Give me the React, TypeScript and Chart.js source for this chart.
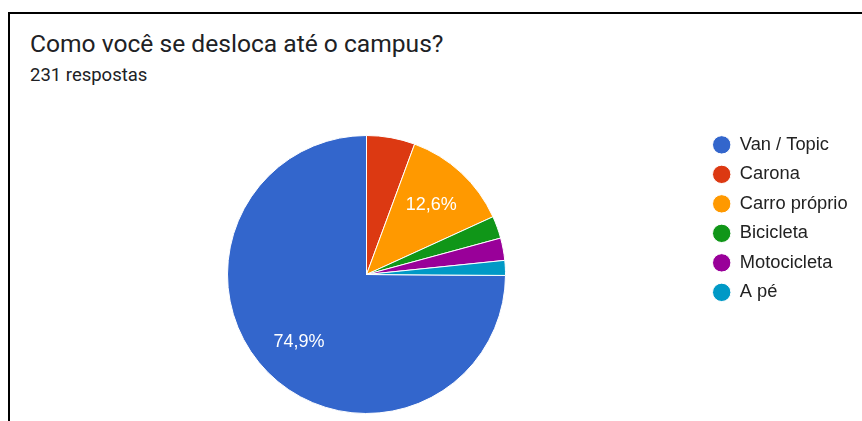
import React, { useEffect, useRef } from 'react';
import { Chart, registerables } from 'chart.js';

Chart.register(...registerables);

const titleText = 'Como você se desloca até o campus?';
const subtitleText = '231 respostas';
const categories = ['Van / Topic', 'Carona', 'Carro próprio', 'Bicicleta', 'Motocicleta', 'A pé'];
const responses = [173, 13, 29, 6, 6, 4];
const sliceColors = ['#3366cc', '#dc3912', '#ff9900', '#109618', '#990099', '#0099c6'];
const labelMinFraction = 0.1;

const sliceLabels = {
  id: 'sliceLabels',
  afterDatasetsDraw(chart: any) {
    const meta = chart.getDatasetMeta(0);
    const data = chart.data.datasets[0].data as number[];
    const total = data.reduce((a, b) => a + b, 0);
    const ctx = chart.ctx as CanvasRenderingContext2D;
    ctx.save();
    ctx.font = '18px "Liberation Sans", Arial, sans-serif';
    ctx.fillStyle = '#ffffff';
    ctx.textAlign = 'center';
    ctx.textBaseline = 'middle';
    meta.data.forEach((arc: any, i: number) => {
      const frac = data[i] / total;
      if (frac < labelMinFraction) return;
      const { x, y, startAngle, endAngle, outerRadius } = arc.getProps(
        ['x', 'y', 'startAngle', 'endAngle', 'outerRadius'],
        true
      );
      const mid = (startAngle + endAngle) / 2;
      const r = outerRadius * 0.685;
      const txt = (frac * 100).toFixed(1).replace('.', ',') + '%';
      ctx.fillText(txt, x + Math.cos(mid) * r, y + Math.sin(mid) * r);
    });
    ctx.restore();
  },
};

export default function App() {
  const canvasRef = useRef<HTMLCanvasElement | null>(null);

  useEffect(() => {
    document.documentElement.style.overflow = 'hidden';
    document.body.style.margin = '0';
    const canvas = canvasRef.current;
    if (!canvas) return;
    const total = responses.reduce((a, b) => a + b, 0);
    const chart = new Chart(canvas, {
      type: 'pie',
      data: {
        labels: categories,
        datasets: [
          {
            data: responses,
            backgroundColor: sliceColors,
            borderColor: '#ffffff',
            borderWidth: 1,
            hoverOffset: 0,
          },
        ],
      },
      options: {
        responsive: false,
        animation: false,
        rotation: (360 * (total - responses[0])) / total,
        radius: 139,
        layout: { padding: { left: 21.5, right: 10.5, top: 110.5, bottom: 0.5 } },
        plugins: {
          legend: {
            position: 'right',
            align: 'start',
            maxWidth: 150,
            labels: {
              usePointStyle: true,
              pointStyle: 'circle',
              boxWidth: 18,
              boxHeight: 13,
              padding: 11.2,
              color: '#222222',
              font: { family: '"Liberation Sans", Arial, sans-serif', size: 18.3 },
            },
          },
          tooltip: { enabled: false },
          title: { display: false },
        },
      } as any,
      plugins: [sliceLabels],
    });
    return () => chart.destroy();
  }, []);

  return (
    <div style={{ position: 'relative', width: 862, height: 421, overflow: 'hidden', background: '#fff' }}>
      <div
        style={{
          position: 'absolute',
          top: 12,
          left: 8,
          width: 900,
          height: 500,
          border: '2px solid #000',
          boxSizing: 'border-box',
          background: '#fff',
        }}
      >
        <div
          style={{
            position: 'absolute',
            left: 20,
            top: 15.5,
            font: '400 24.6px/28px Roboto, sans-serif',
            color: '#202124',
            whiteSpace: 'nowrap',
          }}
        >
          {titleText}
        </div>
        <div
          style={{
            position: 'absolute',
            left: 20,
            top: 50,
            font: '400 18.5px/22px Roboto, sans-serif',
            color: '#202124',
            whiteSpace: 'nowrap',
          }}
        >
          {subtitleText}
        </div>
        <canvas
          ref={canvasRef}
          width={852}
          height={411}
          style={{ position: 'absolute', left: 0, top: 0 }}
        />
      </div>
    </div>
  );
}
